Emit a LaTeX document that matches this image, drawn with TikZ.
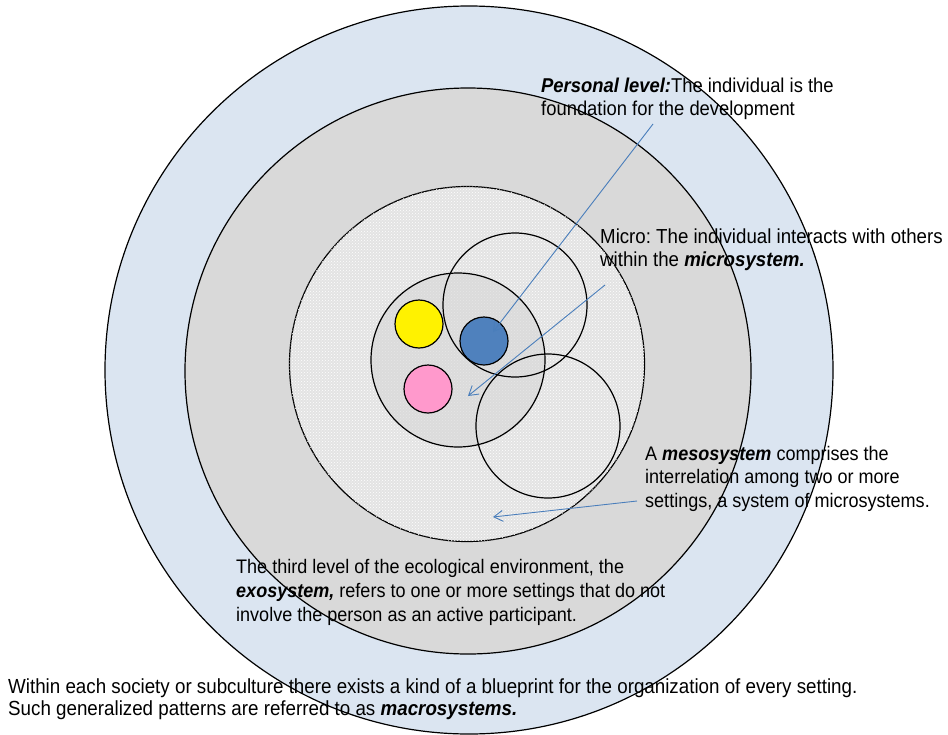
\documentclass[tikz,border=0pt]{standalone}
\usepackage{fontspec}
\setmainfont{Liberation Sans}[FakeStretch=0.92]
\usetikzlibrary{positioning, arrows.meta, patterns}

\definecolor{macroblue}{HTML}{DBE5F1}
\definecolor{exogrey}{HTML}{D9D9D9}
\definecolor{mesogrey}{HTML}{E3E3E3}
\definecolor{microgrey}{HTML}{D6D6D6}
\definecolor{personblue}{HTML}{4F81BD}
\definecolor{peerpink}{HTML}{FF99CC}
\definecolor{arrowblue}{HTML}{4A7EBB}

\frenchspacing

\begin{document}
\begin{tikzpicture}[
    x=1pt, y=-1pt,
    font=\fontsize{20}{23}\selectfont,
    >={Straight Barb[length=9pt, width=11pt]},
    ring/.style={
        circle, draw=black, line width=1.2pt,
        inner sep=0pt, outer sep=0pt
    },
    member/.style={ring, minimum size=48pt},
    note/.style={anchor=base west, inner sep=0pt, align=left},
    pointer/.style={->, draw=arrowblue, line width=0.9pt},
]
\useasboundingbox (0,0) rectangle (948,734);

% ---------- Nested systems ----------
\node[ring, fill=macroblue, minimum size=728pt] (macro) at (469,370) {};
\node[ring, fill=exogrey, minimum size=566pt] (exo) at (468,371) {};
\node[ring, fill=mesogrey, minimum size=355pt,
      postaction={pattern=crosshatch dots, pattern color=white}] (meso) at (467,364) {};

% ---------- Microsystems ----------
\node[ring, fill=microgrey, fill opacity=0.6, minimum size=174pt] (micro) at (458,360) {};
\node[ring, minimum size=144pt] (microup) at (515,305) {};
\node[ring, minimum size=144pt] (microlow) at (548,426) {};

% ---------- Individuals ----------
\node[member, fill=yellow] (yellowone) at (419,324) {};
\node[member, fill=personblue] (person) at (484,341) {};
\node[member, fill=peerpink] (pinkone) at (428,389) {};

% ---------- Labels (anchored on the last line) ----------
\node[note] (personal) at (541,115)
    {\textbf{\textit{Personal level:}}The individual is the\\foundation for the development};
\node[note, font=\fontsize{20.3}{23}\selectfont] (microtext) at (600,266)
    {Micro: The individual interacts with others\\within the \textbf{\textit{microsystem.}}};
\node[note, font=\fontsize{19.6}{23.5}\selectfont] (mesotext) at (645,507)
    {A \textbf{\textit{mesosystem}} comprises the\\interrelation among two or more\\settings, a system of microsystems.};
\node[note, font=\fontsize{19.6}{24}\selectfont] (exotext) at (236,621)
    {The third level of the ecological environment, the\\\textbf{\textit{exosystem,}} refers to one or more settings that do not\\involve the person as an active participant.};
\node[note, font=\fontsize{20.4}{22}\selectfont] (macrotext) at (8,715)
    {Within each society or subculture there exists a kind of a blueprint for the organization of every setting.\\Such generalized patterns are referred to as \textbf{\textit{macrosystems.}}};

% ---------- Arrows ----------
\coordinate (personaltail) at (653,124);
\coordinate (microtail) at (605,285);
\coordinate (microtip) at (468,396);
\coordinate (mesotail) at (637,501);
\coordinate (mesotip) at (493,517);

\draw[pointer] (personaltail) -- ([shift={(9,-9)}]person.center);
\draw[pointer] (microtail) -- (microtip);
\draw[pointer] (mesotail) -- (mesotip);

\end{tikzpicture}
\end{document}
